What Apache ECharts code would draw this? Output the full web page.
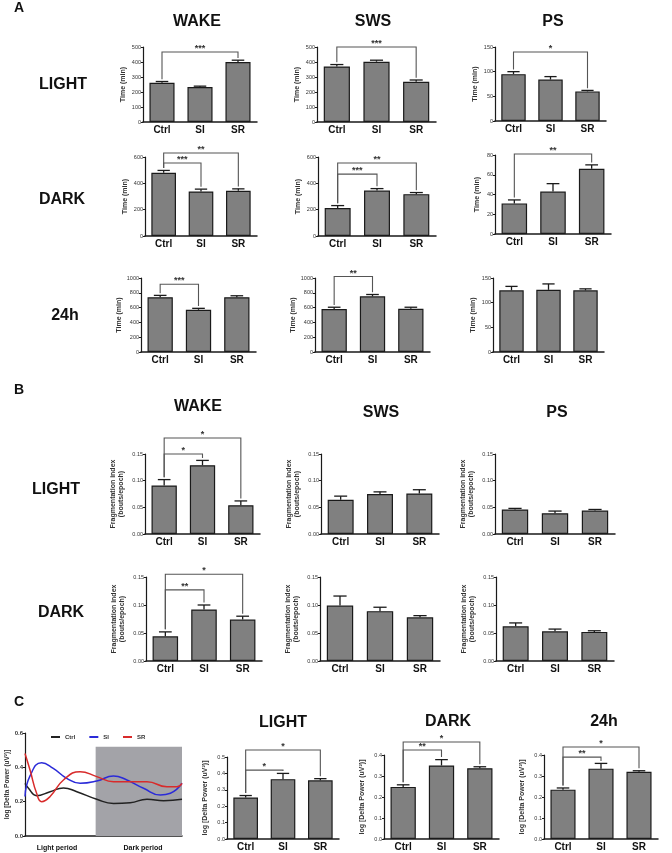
<!DOCTYPE html>
<html><head><meta charset="utf-8">
<script src="https://cdn.jsdelivr.net/npm/echarts@6/dist/echarts.min.js"></script>
<style>html,body{margin:0;padding:0;background:#fff}#c{width:672px;height:853px}</style>
</head><body><div id="c"></div>
<script>
// ---------------- DATA ----------------
const categories = ['Ctrl', 'SI', 'SR'];
// Panel A : time (min)
const aLightWakeMean = [262, 233, 400], aLightWakeErr = [8, 6, 12];
const aLightSwsMean  = [370, 402, 268], aLightSwsErr  = [13, 10, 12];
const aLightPsMean   = [95, 84, 60],    aLightPsErr   = [5, 6, 2];
const aDarkWakeMean  = [480, 338, 343], aDarkWakeErr  = [18, 18, 15];
const aDarkSwsMean   = [213, 345, 318], aDarkSwsErr   = [18, 15, 12];
const aDarkPsMean    = [31, 43, 66],    aDarkPsErr    = [3.5, 8, 4];
const a24WakeMean    = [740, 570, 740], a24WakeErr    = [25, 20, 20];
const a24SwsMean     = [580, 752, 585], a24SwsErr     = [25, 25, 20];
const a24PsMean      = [125, 126, 125], a24PsErr      = [8, 12, 3];
// Panel B : fragmentation index
const bLightWakeMean = [0.091, 0.129, 0.054], bLightWakeErr = [0.011, 0.009, 0.008];
const bLightSwsMean  = [0.064, 0.075, 0.076], bLightSwsErr  = [0.007, 0.004, 0.007];
const bLightPsMean   = [0.046, 0.039, 0.044], bLightPsErr   = [0.002, 0.004, 0.002];
const bDarkWakeMean  = [0.044, 0.092, 0.074], bDarkWakeErr  = [0.008, 0.008, 0.006];
const bDarkSwsMean   = [0.099, 0.089, 0.078], bDarkSwsErr   = [0.017, 0.007, 0.003];
const bDarkPsMean    = [0.062, 0.053, 0.052], bDarkPsErr    = [0.006, 0.004, 0.002];
// Panel C : log delta power
const cLightMean = [0.253, 0.365, 0.358], cLightErr = [0.012, 0.035, 0.010];
const cDarkMean  = [0.248, 0.350, 0.337], cDarkErr  = [0.010, 0.028, 0.007];
const c24Mean    = [0.235, 0.335, 0.320], c24Err    = [0.008, 0.025, 0.005];
// time course (x: % of 24h recording, y: log delta power)
const courseCtrl = [[0,0.307],[2.1,0.28],[7.4,0.235],[16,0.258],[24.5,0.28],[33,0.258],[45.7,0.214],[56.4,0.19],[67,0.194],[77.7,0.214],[88.3,0.206],[100,0.214]];
const courseSI   = [[0,0.23],[3.2,0.35],[10.6,0.427],[18,0.394],[26.6,0.336],[35.1,0.307],[45.7,0.32],[56.4,0.35],[64.9,0.326],[75.5,0.278],[86.2,0.239],[92.6,0.249],[100,0.307]];
const courseSR   = [[0,0.48],[3.2,0.384],[7.4,0.249],[10.6,0.2],[16,0.23],[24.5,0.326],[35.1,0.375],[45.7,0.346],[56.4,0.316],[69.1,0.316],[77.7,0.316],[90.4,0.287],[96.8,0.287],[100,0.307]];
const darkPeriod = [45, 100, 0.52]; // x start, x end, height
// significance brackets: [fromIndex, toIndex, bracket level (data units), label]
const aLightWakeSig = [[0, 2, 467, '***']];
const aLightSwsSig  = [[0, 2, 500, '***']];
const aLightPsSig   = [[0, 2, 140, '*']];
const aDarkWakeSig  = [[0, 1, 555, '***'], [0, 2, 630, '**']];
const aDarkSwsSig   = [[0, 1, 470, '***'], [0, 2, 555, '**']];
const aDarkPsSig    = [[0, 2, 81, '**']];
const a24WakeSig    = [[0, 1, 915, '***']];
const a24SwsSig     = [[0, 1, 1020, '**']];
const a24PsSig      = [];
const bLightWakeSig = [[0, 1, 0.150, '*'], [0, 2, 0.180, '*']];
const bDarkWakeSig  = [[0, 1, 0.127, '**'], [0, 2, 0.155, '*']];
const cLightSig = [[0, 1, 0.42, '*'], [0, 2, 0.543, '*']];
const cDarkSig  = [[0, 1, 0.424, '**'], [0, 2, 0.462, '*']];
const c24Sig    = [[0, 1, 0.39, '**'], [0, 2, 0.438, '*']];

// ---------------- BUILD ----------------
const NARROW = "'Liberation Sans Narrow','Arial Narrow','Liberation Sans',Arial,sans-serif";
const SANS = "'Liberation Sans',Arial,sans-serif";
const grids = [], xAxes = [], yAxes = [], series = [];
const DARK = '#1a1a1a';

function barPanel(g, mean, err, yMax, yInt, fmt, yName, nameGap, sig) {
  const k = grids.length;
  grids.push({left: g[0], top: g[1], width: g[2], height: g[3], containLabel: false, outerBoundsMode: 'none'});
  xAxes.push({gridIndex: k, type: 'category', data: categories,
    axisLine: {lineStyle: {color: DARK, width: 1.5}}, axisTick: {show: false},
    axisLabel: {fontSize: 10, fontWeight: 'bold', color: '#111', margin: 3, fontFamily: NARROW, interval: 0}});
  yAxes.push({gridIndex: k, type: 'value', min: 0, max: yMax, interval: yInt,
    axisLine: {show: true, lineStyle: {color: DARK, width: 1.2}},
    axisTick: {show: true, length: 2, lineStyle: {color: DARK, width: 1}},
    splitLine: {show: false},
    axisLabel: {fontSize: 5.5, color: '#333', margin: 2, fontFamily: SANS, formatter: fmt, showMinLabel: true, showMaxLabel: true},
    name: yName, nameLocation: 'middle', nameGap: nameGap,
    nameTextStyle: {fontSize: 7, fontWeight: 'bold', color: '#333', fontFamily: SANS, lineHeight: 8}});
  series.push({type: 'bar', xAxisIndex: k, yAxisIndex: k, data: mean, barWidth: '66%',
    itemStyle: {color: '#808080', borderColor: DARK, borderWidth: 1.2}, silent: true});
  series.push({type: 'custom', xAxisIndex: k, yAxisIndex: k, silent: true, clip: false, z: 5,
    data: mean.map((m, i) => [i, m, err[i]]),
    renderItem: function (params, api) {
      const i = api.value(0), m = api.value(1), e = api.value(2);
      const top = api.coord([i, m + e]), base = api.coord([i, m]);
      const cw = api.size([1, 0])[0] * 0.66 * 0.5;
      return {type: 'group', children: [
        {type: 'line', shape: {x1: top[0], y1: base[1], x2: top[0], y2: top[1]}, style: {stroke: DARK, lineWidth: 1.3}},
        {type: 'line', shape: {x1: top[0] - cw / 2, y1: top[1], x2: top[0] + cw / 2, y2: top[1]}, style: {stroke: DARK, lineWidth: 1.3}}
      ]};
    }});
  if (sig.length) {
    const gap = yMax * 0.03;
    series.push({type: 'custom', xAxisIndex: k, yAxisIndex: k, silent: true, clip: false, z: 6,
      data: sig.map(s => [s[0], s[1], s[2], mean[s[0]] + err[s[0]] + gap, mean[s[1]] + err[s[1]] + gap]),
      renderItem: function (params, api) {
        const a = api.value(0), b = api.value(1), lv = api.value(2), ea = api.value(3), eb = api.value(4);
        const p1 = api.coord([a, ea]), p2 = api.coord([a, lv]), p3 = api.coord([b, lv]), p4 = api.coord([b, eb]);
        return {type: 'group', children: [
          {type: 'polyline', shape: {points: [p1, p2, p3, p4]}, style: {stroke: '#555', lineWidth: 1.1, fill: 'none'}},
          {type: 'text', style: {text: sig[params.dataIndex][3], x: (p2[0] + p3[0]) / 2, y: p2[1] + 1,
            align: 'center', verticalAlign: 'bottom', fontSize: 9, fontWeight: 'bold', fontFamily: SANS, fill: '#333'}}
        ]};
      }});
  }
}
const fInt = v => String(v);
const f2 = v => v.toFixed(2);
const f1 = v => v.toFixed(1);
const TIME = 'Time (min)';
const FRAG = 'Fragmentation index\n(bouts/epoch)';
const LOGD = 'log [Delta Power (uV\u00B2)]';

// Panel A
barPanel([143, 47, 114, 75], aLightWakeMean, aLightWakeErr, 500, 100, fInt, TIME, 16, aLightWakeSig);
barPanel([317, 47, 119, 75], aLightSwsMean, aLightSwsErr, 500, 100, fInt, TIME, 16, aLightSwsSig);
barPanel([495, 47, 111, 74], aLightPsMean, aLightPsErr, 150, 50, fInt, TIME, 16, aLightPsSig);
barPanel([145, 157, 112, 79], aDarkWakeMean, aDarkWakeErr, 600, 200, fInt, TIME, 16, aDarkWakeSig);
barPanel([318, 157, 118, 79], aDarkSwsMean, aDarkSwsErr, 600, 200, fInt, TIME, 16, aDarkSwsSig);
barPanel([495, 155, 116, 79], aDarkPsMean, aDarkPsErr, 80, 20, fInt, TIME, 14, aDarkPsSig);
barPanel([141, 278, 115, 74], a24WakeMean, a24WakeErr, 1000, 200, fInt, TIME, 18, a24WakeSig);
barPanel([315, 278, 115, 74], a24SwsMean, a24SwsErr, 1000, 200, fInt, TIME, 18, a24SwsSig);
barPanel([493, 278, 111, 74], a24PsMean, a24PsErr, 150, 50, fInt, TIME, 16, a24PsSig);
// Panel B
barPanel([145, 454, 115, 80], bLightWakeMean, bLightWakeErr, 0.15, 0.05, f2, FRAG, 20, bLightWakeSig);
barPanel([321, 454, 118, 80], bLightSwsMean, bLightSwsErr, 0.15, 0.05, f2, FRAG, 20, []);
barPanel([495, 454, 120, 80], bLightPsMean, bLightPsErr, 0.15, 0.05, f2, FRAG, 20, []);
barPanel([146, 577, 116, 84], bDarkWakeMean, bDarkWakeErr, 0.15, 0.05, f2, FRAG, 20, bDarkWakeSig);
barPanel([320, 577, 120, 84], bDarkSwsMean, bDarkSwsErr, 0.15, 0.05, f2, FRAG, 20, []);
barPanel([496, 577, 118, 84], bDarkPsMean, bDarkPsErr, 0.15, 0.05, f2, FRAG, 20, []);
// Panel C bars
barPanel([227, 757, 112, 82], cLightMean, cLightErr, 0.5, 0.1, f1, LOGD, 18, cLightSig);
barPanel([384, 755, 115, 84], cDarkMean, cDarkErr, 0.4, 0.1, f1, LOGD, 18, cDarkSig);
barPanel([544, 755, 114, 84], c24Mean, c24Err, 0.4, 0.1, f1, LOGD, 18, c24Sig);

// Panel C time course
(function () {
  const k = grids.length;
  grids.push({left: 25, top: 733, width: 157, height: 103, containLabel: false, outerBoundsMode: 'none'});
  xAxes.push({gridIndex: k, type: 'value', min: 0, max: 100,
    axisLine: {lineStyle: {color: DARK, width: 1.5}}, axisTick: {show: false}, axisLabel: {show: false}, splitLine: {show: false}});
  yAxes.push({gridIndex: k, type: 'value', min: 0, max: 0.6, interval: 0.2,
    axisLine: {show: true, lineStyle: {color: DARK, width: 1.2}},
    axisTick: {show: true, length: 2, lineStyle: {color: DARK}}, splitLine: {show: false},
    axisLabel: {fontSize: 6, fontWeight: 'bold', color: '#333', margin: 2, fontFamily: SANS, formatter: f1},
    name: LOGD, nameLocation: 'middle', nameGap: 14,
    nameTextStyle: {fontSize: 6.5, fontWeight: 'bold', color: '#333', fontFamily: SANS}});
  const mk = (name, color, data, extra) => Object.assign({type: 'line', name, xAxisIndex: k, yAxisIndex: k, data,
    smooth: 0.5, symbol: 'none', lineStyle: {color, width: 1.5}, itemStyle: {color}, silent: true, z: 4}, extra || {});
  series.push(mk('Ctrl', '#222222', courseCtrl, {markArea: {silent: true, itemStyle: {color: '#a3a3a8'},
    data: [[{xAxis: darkPeriod[0], yAxis: 0}, {xAxis: darkPeriod[1], yAxis: darkPeriod[2]}]]}}));
  series.push(mk('SI', '#2b2bd8', courseSI));
  series.push(mk('SR', '#d82b2b', courseSR));
})();

const txt = (x, y, text, size, extra) => ({type: 'text', x, y, silent: true,
  style: Object.assign({text, fontSize: size, fontWeight: 'bold', fontFamily: NARROW, fill: '#111', align: 'center', verticalAlign: 'middle'}, extra || {})});
const graphic = [
  txt(19, 8, 'A', 14, {fontFamily: SANS}), txt(19, 390, 'B', 14, {fontFamily: SANS}), txt(19, 702, 'C', 14, {fontFamily: SANS}),
  txt(197, 22, 'WAKE', 16), txt(373, 22, 'SWS', 16), txt(553, 22, 'PS', 16),
  txt(63, 85, 'LIGHT', 16), txt(62, 200, 'DARK', 16), txt(65, 316, '24h', 16),
  txt(198, 407, 'WAKE', 16), txt(381, 413, 'SWS', 16), txt(557, 413, 'PS', 16),
  txt(56, 490, 'LIGHT', 16), txt(61, 613, 'DARK', 16),
  txt(283, 723, 'LIGHT', 16), txt(448, 722, 'DARK', 16), txt(604, 722, '24h', 16),
  txt(57, 848, 'Light period', 7, {fontFamily: SANS}), txt(143, 848, 'Dark period', 7, {fontFamily: SANS})
];

const chart = echarts.init(document.getElementById('c'), null, {renderer: 'canvas'});
chart.setOption({
  animation: false, backgroundColor: '#fff',
  grid: grids, xAxis: xAxes, yAxis: yAxes, series,
  legend: {data: ['Ctrl', 'SI', 'SR'], left: 46, top: 729, itemWidth: 9, itemHeight: 2, itemGap: 14,
    icon: 'rect', textStyle: {fontSize: 6, fontWeight: 'bold', color: '#333', fontFamily: SANS}, selectedMode: false},
  graphic
});
</script></body></html>
